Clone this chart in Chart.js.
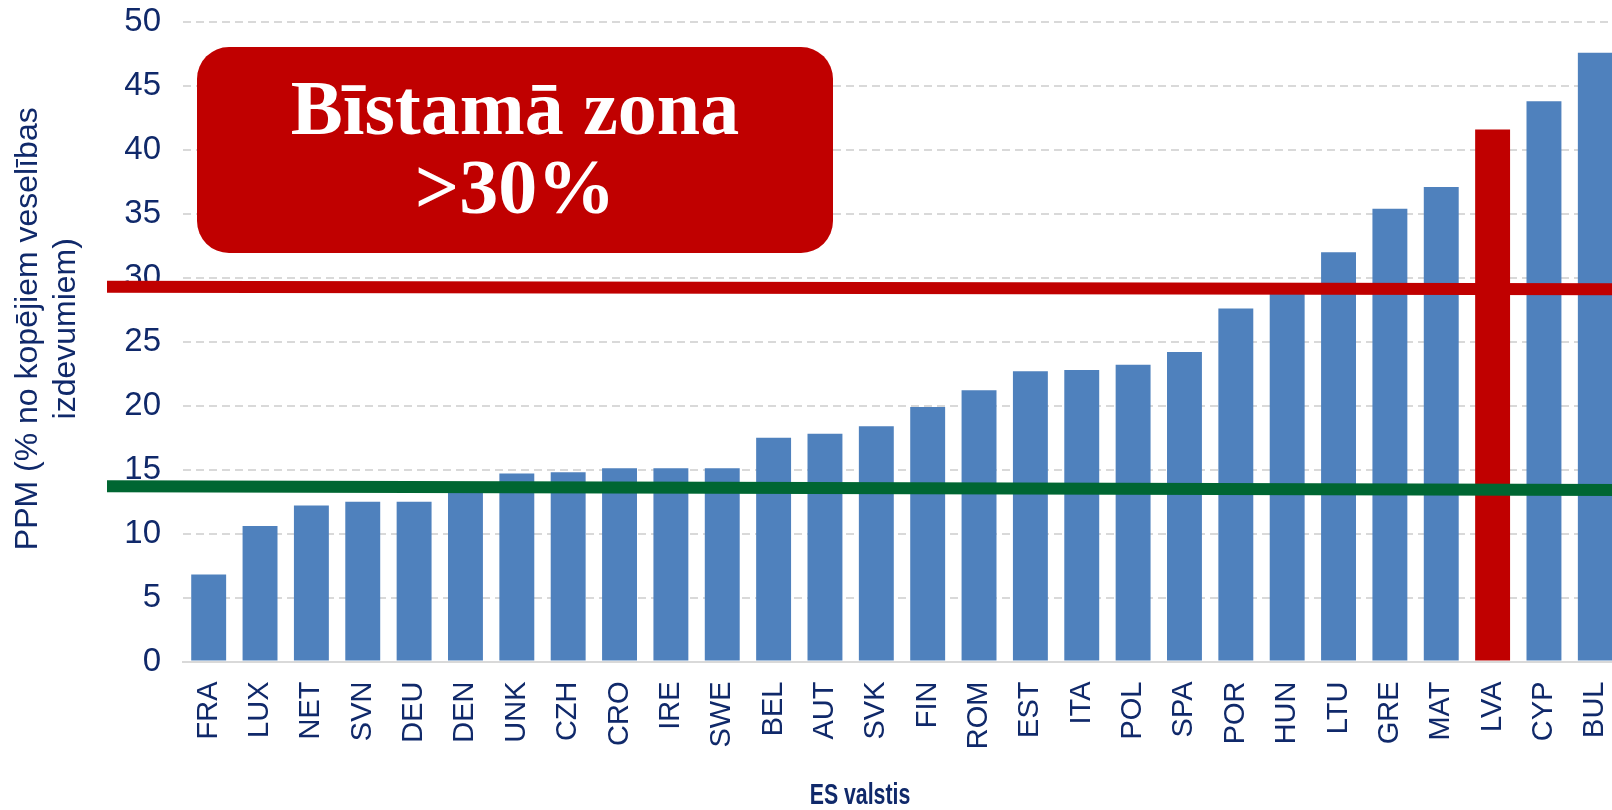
<!DOCTYPE html>
<html lang="lv">
<head>
<meta charset="utf-8">
<title>PPM ES valstīs</title>
<script src="https://cdn.jsdelivr.net/npm/chart.js@4.4.1/dist/chart.umd.min.js"></script>
<style>
    html, body { margin: 0; padding: 0; background: #fff; overflow: hidden; }
    #wrap { width: 1621px; height: 810px; }
</style>
</head>
<body>
<div id="wrap"><canvas id="ppmChart" width="1621" height="810"></canvas></div>
<script>
const valstis = ['FRA', 'LUX', 'NET', 'SVN', 'DEU', 'DEN', 'UNK', 'CZH', 'CRO', 'IRE', 'SWE', 'BEL', 'AUT', 'SVK',
    'FIN', 'ROM', 'EST', 'ITA', 'POL', 'SPA', 'POR', 'HUN', 'LTU', 'GRE', 'MAT', 'LVA', 'CYP', 'BUL'];
const ppm = [6.8, 10.6, 12.2, 12.5, 12.5, 13.5, 14.7, 14.8, 15.1, 15.1, 15.1, 17.5, 17.8, 18.4,
    19.9, 21.2, 22.7, 22.8, 23.2, 24.2, 27.6, 29.0, 32.0, 35.4, 37.1, 41.6, 43.8, 47.6];
const izcelta = 'LVA';
// sliekšņu līnijas: vērtība kreisajā un labajā malā
const bistamaLinija = [29.3, 29.1];
const drosaLinija = [13.7, 13.4];
const yNosaukums = ['PPM (% no kopējiem veselības', 'izdevumiem)'];
const xNosaukums = 'ES valstis';

const zila = '#4F81BD';
const sarkana = '#C00000';
const zala = '#006632';
const teksts = '#10296A';

const overlay = {
    id: 'overlay',
    afterDatasetsDraw(chart) {
        const { ctx, chartArea, scales: { y } } = chart;

        // sliekšņu līnijas
        [[bistamaLinija, sarkana], [drosaLinija, zala]].forEach(([vals, color]) => {
            ctx.save();
            ctx.strokeStyle = color;
            ctx.lineWidth = 12;
            ctx.beginPath();
            ctx.moveTo(chartArea.left - 76, y.getPixelForValue(vals[0]));
            ctx.lineTo(chart.width, y.getPixelForValue(vals[1]));
            ctx.stroke();
            ctx.restore();
        });

        // "Bīstamā zona" lodziņš
        const bx = chartArea.left + 14, by = chartArea.top + 25, bw = 636, bh = 206;
        ctx.save();
        ctx.fillStyle = sarkana;
        ctx.beginPath();
        ctx.roundRect(bx, by, bw, bh, 32);
        ctx.fill();
        ctx.fillStyle = '#fff';
        ctx.font = 'bold 78px "Liberation Serif", serif';
        ctx.textAlign = 'center';
        ctx.textBaseline = 'alphabetic';
        ctx.fillText('Bīstamā zona', bx + bw / 2, by + 87);
        ctx.fillText('>30%', bx + bw / 2, by + 166);
        ctx.restore();
    },
    afterDraw(chart) {
        const { ctx, chartArea } = chart;
        const midY = (chartArea.top + chartArea.bottom) / 2 - 13;

        // y ass nosaukums
        ctx.save();
        ctx.fillStyle = teksts;
        ctx.font = '32px "Liberation Sans", Arial, sans-serif';
        ctx.textAlign = 'center';
        ctx.textBaseline = 'middle';
        ctx.translate(28, midY);
        ctx.rotate(-Math.PI / 2);
        yNosaukums.forEach((line, i) => ctx.fillText(line, 0, i * 38));
        ctx.restore();

        // x ass nosaukums (šaurs treknraksts)
        ctx.save();
        ctx.fillStyle = teksts;
        ctx.font = 'bold 30px "Liberation Sans", Arial, sans-serif';
        ctx.textAlign = 'center';
        ctx.textBaseline = 'middle';
        ctx.translate(chartArea.left + 677, chart.height - 14);
        ctx.scale(0.71, 1);
        ctx.fillText(xNosaukums, 0, 0);
        ctx.restore();
    }
};

const config = {
    type: 'bar',
    data: {
        labels: valstis,
        datasets: [{
            label: 'PPM',
            data: ppm,
            backgroundColor: valstis.map(v => v === izcelta ? sarkana : zila),
            barPercentage: 0.68,
            categoryPercentage: 1
        }]
    },
    options: {
        responsive: false,
        animation: false,
        layout: { padding: { top: 22, left: 0, right: 0, bottom: 0 } },
        plugins: {
            legend: { display: false },
            tooltip: { enabled: false }
        },
        scales: {
            x: {
                grid: { display: false, drawTicks: false },
                border: { display: true, color: '#D9D9D9', width: 2 },
                ticks: {
                    color: teksts,
                    font: { family: '"Liberation Sans", Arial, sans-serif', size: 29 },
                    minRotation: 90,
                    maxRotation: 90,
                    autoSkip: false,
                    padding: 20
                },
                afterFit(scale) {
                    scale.height = 148.5;
                    scale.paddingLeft = 0;
                    scale.paddingRight = 0;
                }
            },
            y: {
                min: 0,
                max: 50,
                grid: { color: '#D9D9D9', lineWidth: 2, drawTicks: false },
                border: { display: false, dash: [8, 5] },
                ticks: {
                    stepSize: 5,
                    color: teksts,
                    font: { family: '"Liberation Sans", Arial, sans-serif', size: 33 },
                    padding: 22
                },
                afterFit(scale) {
                    scale.width = 183;
                    scale.paddingTop = 0;
                    scale.paddingBottom = 0;
                }
            }
        }
    },
    plugins: [overlay]
};

new Chart(document.getElementById('ppmChart').getContext('2d'), config);
</script>
</body>
</html>
